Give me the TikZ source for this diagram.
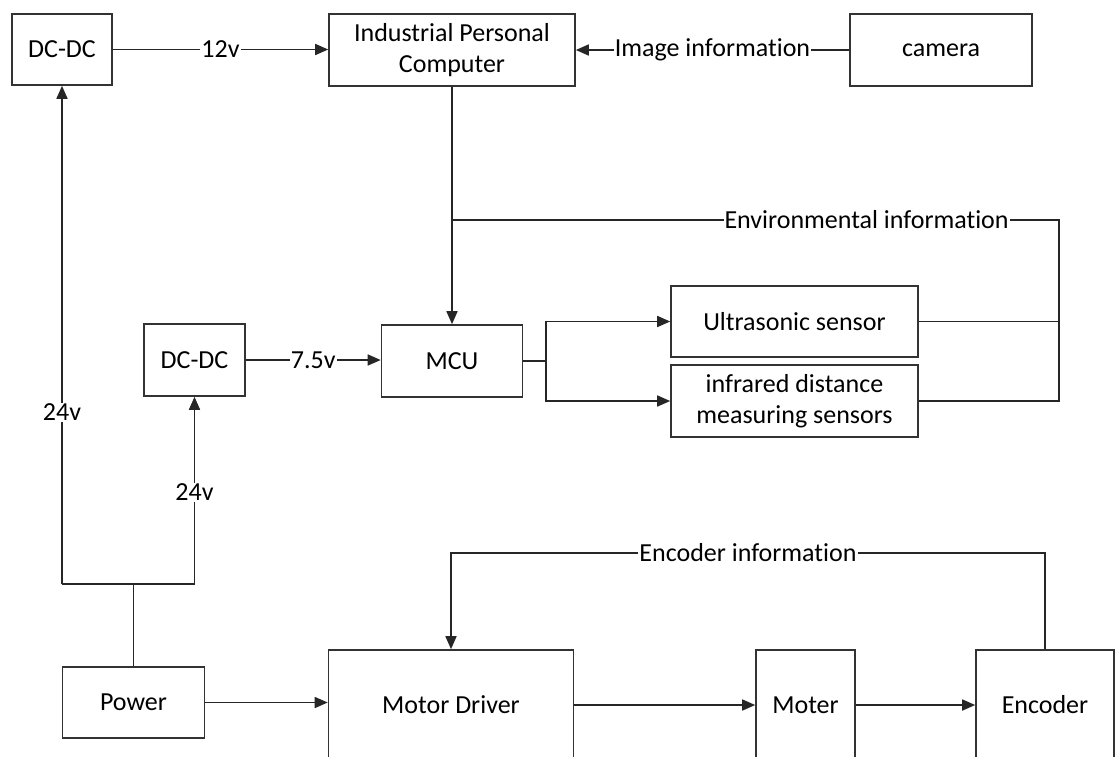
\documentclass[tikz,border=0pt]{standalone}
\usepackage{fontspec}
\setmainfont{Carlito}[Ligatures={NoCommon}]
\usetikzlibrary{arrows.meta}
\begin{document}
\begin{tikzpicture}[x=1pt,y=-1pt,
  every node/.style={font=\fontsize{26}{31}\selectfont},
  box/.style={draw=black!80, line width=1.6pt, inner sep=0pt, align=center},
  txt/.style={inner sep=0pt, align=center},
  lbl/.style={fill=white, inner sep=1pt},
  ln/.style={draw=black!85, line width=1.6pt},
  arr/.style={ln, -{Triangle[length=13pt,width=11pt]}}]
\clip (0,0) rectangle (1118,756);
% boxes
\node[box, minimum width=100, minimum height=71] (dc1) at (62,49.5) {DC-DC};
\node[box, minimum width=246, minimum height=72] (ipc) at (452,50) {Industrial Personal\\Computer};
\node[box, minimum width=182, minimum height=72] (cam) at (941,50) {camera};
\node[box, minimum width=141, minimum height=72] (mcu) at (452,361) {MCU};
\node[box, minimum width=247, minimum height=71] (us) at (794.5,321.5) {Ultrasonic sensor};
\node[box, minimum width=247, minimum height=72] (ir) at (794.5,401) {infrared distance\\measuring sensors};
\node[box, minimum width=101, minimum height=72] (dc2) at (194.5,360) {DC-DC};
\node[box, minimum width=142, minimum height=71] (pow) at (133.5,702.5) {Power};
\node[box, minimum width=245, minimum height=110] (md) at (451,705) {};
\node[txt] (mdt) at (451,705) {Motor Driver};
\node[box, minimum width=99, minimum height=110] (mot) at (805.5,705) {};
\node[txt] (mott) at (805.5,705) {Moter};
\node[box, minimum width=138, minimum height=110] (enc) at (1045,705) {};
\node[txt] (enct) at (1045,705) {Encoder};
% top row
\draw[arr] (dc1.east) -- node[lbl]{12v} (dc1.east -| ipc.west);
\draw[arr] (cam.west) -- node[lbl]{Image information} (cam.west -| ipc.east);
\draw[arr] (ipc.south) -- (mcu.north);
% environmental feedback
\coordinate (c1) at (1059,321.5);
\coordinate (c2) at (1059,401);
\coordinate (c3) at (1059,220);
\coordinate (c4) at (452,220);
\draw[ln] (us.east) -- (c1);
\draw[ln] (ir.east) -- (c2) -- (c3) -- node[lbl, pos=0.317]{Environmental information} (c4);
% MCU branch
\coordinate (b0) at (546,361);
\coordinate (b1) at (546,321.5);
\coordinate (b2) at (546,401);
\draw[ln] (mcu.east) -- (b0);
\draw[arr] (b0) -- (b1) -- (us.west);
\draw[arr] (b0) -- (b2) -- (ir.west);
% 7.5v
\draw[arr] (dc2.east) -- node[lbl]{7.5v} (dc2.east -| mcu.west);
% power distribution
\coordinate (p1) at (62,584);
\coordinate (p2) at (194.5,584);
\coordinate (pj) at (133.5,584);
\draw[ln] (pow.north) -- (pj);
\draw[ln] (p1) -- (p2);
\draw[arr] (p1) -- node[lbl, pos=0.345]{24v} (dc1.south);
\draw[arr] (p2) -- node[lbl, pos=0.49]{24v} (dc2.south);
% bottom chain
\draw[arr] (pow.east) -- (pow.east -| md.west);
\draw[arr] (md.east) -- (mot.west);
\draw[arr] (mot.east) -- (enc.west);
% encoder feedback
\coordinate (e1) at (1045,553);
\coordinate (e2) at (451,553);
\draw[arr] (enc.north) -- (e1) -- node[lbl]{Encoder information} (e2) -- (md.north);
\end{tikzpicture}
\end{document}
